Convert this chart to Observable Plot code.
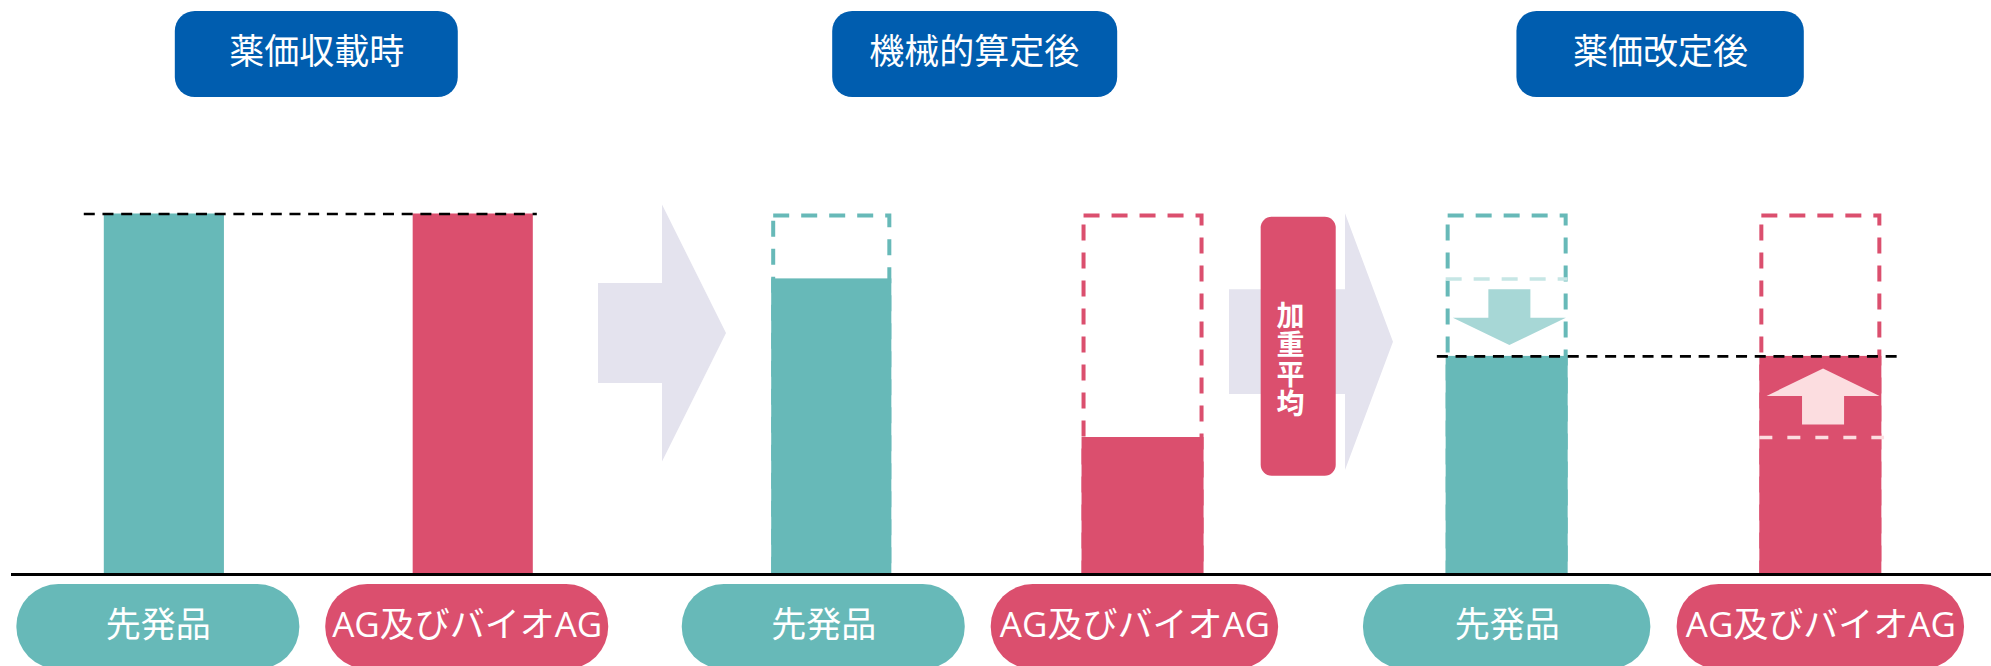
<!DOCTYPE html>
<html><head><meta charset="utf-8">
<script src="https://cdn.jsdelivr.net/npm/d3@7"></script>
<script src="https://cdn.jsdelivr.net/npm/@observablehq/plot@0.6"></script>
<style>html,body{margin:0;padding:0;background:#fff;overflow:hidden}</style>
</head><body><div id="chart"></div>
<script>
// ---- data ----
const stages = ["薬価収載時", "機械的算定後", "薬価改定後"];
const products = ["先発品", "AG及びバイオAG"];
const listedPrice = [100, 100];      // 薬価収載時
const mechanicalPrice = [82, 38];    // 機械的算定後
const revisedPrice = [60.5, 60.5];   // 薬価改定後 (加重平均)
const averageLabel = "加重平均";

// ---- styles / layout ----
const TEAL = "#67B9B8", RED = "#DB4F6E", BLUE = "#005DAF", GRAY = "#E4E3EE";
const LIGHT_TEAL = "#A7D7D6", LIGHT_TEAL_DASH = "#C6E6E5", PINK = "#FCDDE0";
const FONT = "'Noto Sans CJK JP', 'Noto Sans', sans-serif";
const PILL_FONT = "'Open Sans', 'Noto Sans CJK JP', sans-serif";
const OFF = 0.2314, HW = 0.09, PILL_HW = 0.212, TITLE_HW = 0.212;
const TITLE_NUDGE = [-0.003, -0.018, -0.005];
const PILL_NUDGE = [-0.009, -0.012, 0];

const stageValues = [listedPrice, mechanicalPrice, revisedPrice];
const bars = stages.flatMap((s, i) => products.map((p, j) => ({
  stage: s, si: i, product: p, pj: j, value: stageValues[i][j],
  prev: i > 0 ? listedPrice[j] : null, mech: mechanicalPrice[j]
})));
const cx = d => d.si + (d.pj ? OFF : -OFF);
const px = d => cx(d) + PILL_NUDGE[d.si];
const outlines = bars.filter(d => d.si > 0);
const finals = bars.filter(d => d.si === 2);

// reference lines (black dashed): original level across stage 0, average across stage 2
const refLines = [
  {si: 0, value: listedPrice[0], extL: 0.030, extR: 0.006},
  {si: 2, value: revisedPrice[0], extL: 0.013, extR: 0.024}
];

// small arrows inside the final bars: from mechanical value toward revised value
function smallArrow(d) {
  const c = cx(d) + 0.004, mid = (d.mech + d.value) / 2, dir = Math.sign(d.value - d.mech);
  const L = 15.5, shaft = 7.9, sw = 0.031, hw = 0.0834;
  const start = mid - dir * L / 2, base = start + dir * shaft, tip = mid + dir * L / 2;
  return [
    {y: start, x1: c - sw, x2: c + sw},
    {y: base, x1: c - sw, x2: c + sw},
    {y: base, x1: c - hw, x2: c + hw},
    {y: tip, x1: c, x2: c}
  ];
}
// big grey transition arrows between stages
function bigArrow(x0, xb, xt, cy, bh, hh) {
  return [
    {x: x0, y1: cy - bh, y2: cy + bh},
    {x: xb, y1: cy - bh, y2: cy + bh},
    {x: xb, y1: cy - hh, y2: cy + hh},
    {x: xt, y1: cy, y2: cy}
  ];
}
const arrow1 = bigArrow(0.4191, 0.5150, 0.6109, 66.85, 13.87, 35.64);
const arrow2 = bigArrow(1.3590, 1.5301, 1.6009, 64.45, 14.52, 35.6);
const avgBox = [{x1: 1.4057, x2: 1.5164, y1: 27.27, y2: 99.11, cx: 1.4489, cy: 62.0, label: averageLabel}];

const plot = Plot.plot({
  width: 1991, height: 666,
  marginLeft: 11, marginRight: 0, marginTop: 0, marginBottom: 0,
  style: {fontFamily: FONT, background: "white", overflow: "hidden"},
  x: {type: "linear", domain: [0, 1, 2], range: [318.3, 985.7, 1663.5], axis: null},
  y: {domain: [0, 100], range: [574, 213.5], axis: null},
  color: {domain: products, range: [TEAL, RED]},
  marks: [
    Plot.areaY(arrow1, {x: "x", y1: "y1", y2: "y2", fill: GRAY, curve: "linear"}),
    Plot.areaY(arrow2, {x: "x", y1: "y1", y2: "y2", fill: GRAY, curve: "linear"}),
    Plot.rect(avgBox, {x1: "x1", x2: "x2", y1: "y1", y2: "y2", fill: RED, rx: 11, ry: 11}),
    Plot.text(avgBox, {x: "cx", y: "cy", text: "label", fill: "white",
      fontSize: 28, fontWeight: "bold", fontFamily: FONT}),
    // previous-price dashed outlines
    Plot.rect(outlines, {x1: d => cx(d) - HW, x2: d => cx(d) + HW, y1: 0, y2: "prev",
      fill: "none", stroke: "product", strokeWidth: 4, strokeDasharray: "16,12", inset: 2}),
    // bars
    Plot.rect(bars, {x1: d => cx(d) - HW, x2: d => cx(d) + HW, y1: 0, y2: "value", fill: "product"}),
    // former mechanical level inside final stage
    Plot.ruleY(finals.filter(d => d.pj === 0), {y: "mech", x1: d => cx(d) - HW, x2: d => cx(d) + HW,
      stroke: LIGHT_TEAL_DASH, strokeWidth: 3.5, strokeDasharray: "16,12"}),
    Plot.ruleY(finals.filter(d => d.pj === 1), {y: "mech", x1: d => cx(d) - HW, x2: d => cx(d) + HW + 0.004,
      stroke: PINK, strokeWidth: 3.5, strokeDasharray: "13,15"}),
    // arrows showing the change
    Plot.areaX(smallArrow(finals[0]), {y: "y", x1: "x1", x2: "x2", fill: LIGHT_TEAL, curve: "linear"}),
    Plot.areaX(smallArrow(finals[1]), {y: "y", x1: "x1", x2: "x2", fill: PINK, curve: "linear"}),
    // black reference dashed lines
    Plot.ruleY(refLines, {y: "value", x1: d => d.si - OFF - HW - d.extL, x2: d => d.si + OFF + HW + d.extR,
      stroke: "black", strokeWidth: 2.7, strokeDasharray: "11,7.7"}),
    // baseline
    Plot.ruleY([0], {stroke: "black", strokeWidth: 3}),
    // stage headers
    Plot.rect(stages, {x1: (d, i) => i + TITLE_NUDGE[i] - TITLE_HW, x2: (d, i) => i + TITLE_NUDGE[i] + TITLE_HW,
      y1: () => 132.3, y2: () => 156.2, fill: BLUE, rx: 20, ry: 20}),
    Plot.text(stages, {x: (d, i) => i + TITLE_NUDGE[i], y: () => 144.6, text: d => d, fill: "white",
      fontSize: 35, fontFamily: FONT}),
    // category pills
    Plot.rect(bars, {x1: d => px(d) - PILL_HW, x2: d => px(d) + PILL_HW, y1: () => -26.35, y2: () => -2.77,
      fill: "product", rx: 42, ry: 42}),
    Plot.text(bars, {x: px, y: () => -14.3, text: "product", fill: "white", fontSize: 35, fontFamily: PILL_FONT})
  ]
});
// render the weighted-average label vertically (one text, upright glyphs)
d3.select(plot).selectAll("text").filter(function () { return this.textContent === averageLabel; })
  .attr("dy", null)
  .style("writing-mode", "vertical-rl")
  .style("text-orientation", "upright")
  .style("letter-spacing", "1.5px")
  .attr("dominant-baseline", "central");
document.getElementById("chart").append(plot);
</script>
</body></html>
